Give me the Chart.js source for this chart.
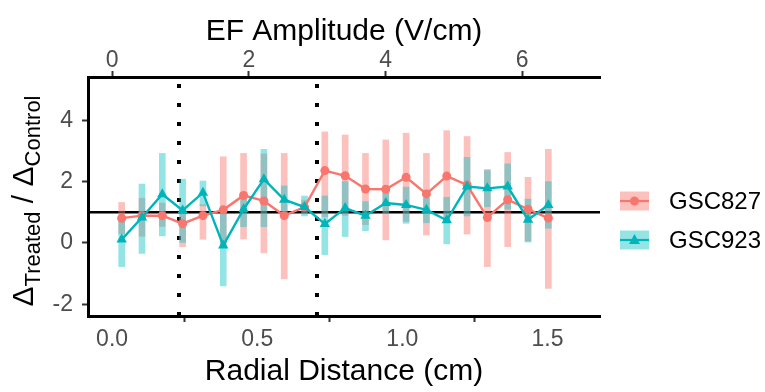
<!DOCTYPE html>
<html>
<head>
<meta charset="utf-8">
<script src="https://cdn.jsdelivr.net/npm/chart.js@4/dist/chart.umd.min.js"></script>
<style>
  html, body { margin: 0; padding: 0; background: #fff; }
</style>
</head>
<body>
<canvas id="chart" width="765" height="392"></canvas>
<script>
// radial distance of each bin centre (cm)
const radialCm = [0.033, 0.103, 0.173, 0.243, 0.313, 0.383, 0.453, 0.523, 0.593, 0.663, 0.733,
                  0.803, 0.873, 0.943, 1.013, 1.083, 1.153, 1.223, 1.293, 1.363, 1.433, 1.503];

const gsc827Mean = [0.81, 0.89, 0.89, 0.63, 0.89, 1.08, 1.55, 1.37, 0.89, 1.17, 2.36,
                    2.19, 1.76, 1.75, 2.14, 1.60, 2.18, 1.89, 0.83, 1.41, 1.10, 0.81];
const gsc827Low  = [0.30, 0.22, 0.54, -0.12, 0.12, -0.12, 0.13, -0.32, -1.17, 0.95, 0.86,
                    0.90, 0.60, 0.10, 0.70, 0.26, 0.70, 0.29, -0.77, -0.12, 0.06, -1.48];
const gsc827High = [1.32, 1.46, 1.30, 1.13, 1.25, 2.81, 2.92, 2.90, 2.92, 1.40, 3.62,
                    3.52, 2.92, 3.36, 3.58, 2.92, 3.66, 3.47, 2.40, 2.95, 2.14, 3.05];

const gsc923Mean = [0.11, 0.83, 1.59, 1.06, 1.64, -0.08, 1.10, 2.08, 1.41, 1.17, 0.62,
                    1.14, 0.89, 1.30, 1.24, 1.08, 0.74, 1.84, 1.78, 1.84, 0.76, 1.24];
const gsc923Low  = [-0.77, -0.34, 0.23, 0.00, 1.21, -1.40, 0.53, 0.53, 0.92, 0.88, -0.38,
                    0.21, 0.40, 0.97, 0.64, 0.66, -0.03, 0.88, 1.18, 1.10, 0.03, 0.48];
const gsc923High = [0.80, 1.92, 2.92, 2.08, 2.02, 1.19, 1.49, 3.05, 1.86, 1.53, 1.53,
                    2.00, 1.35, 1.62, 1.82, 1.46, 1.49, 2.79, 2.36, 2.58, 1.43, 2.00];

const seriesNames = ["GSC827", "GSC923"];
const dividerCm = [0.231, 0.705];   // dotted region boundaries
const refLevel = 1;                  // treated == control
const cmToEF = 4.246;                // top axis: V/cm per cm

const red = "#F8766D", redFill = "rgba(248,118,109,0.45)";
const teal = "#00B5BA", tealFill = "rgba(0,191,196,0.42)";
const FONT = "'Liberation Sans', Arial, sans-serif";

const xMin = -0.083, xMax = 1.681;

function pts(vals) {
    return vals.map((v, i) => ({ x: radialCm[i], y: v }));
}
function ranges(lo, hi) {
    return lo.map((v, i) => ({ x: radialCm[i], y: [v, hi[i]] }));
}

const axisGrid = { drawOnChartArea: false, drawTicks: true, tickLength: 6, tickWidth: 2, tickColor: "#333" };
const axisBorder = { display: true, color: "#000", width: 3 };
const tickFont = { family: FONT, size: 23 };

// reference lines + y title + legend
const extras = {
    id: "extras",
    beforeDatasetsDraw(chart) {
        const { ctx, chartArea: a, scales } = chart;
        ctx.save();
        ctx.strokeStyle = "#000";
        ctx.lineWidth = 4;
        ctx.setLineDash([4, 15]);
        ctx.lineDashOffset = 12;
        dividerCm.forEach(d => {
            const px = Math.round(scales.x.getPixelForValue(d));
            ctx.beginPath();
            ctx.moveTo(px, a.top);
            ctx.lineTo(px, a.bottom);
            ctx.stroke();
        });
        ctx.setLineDash([]);
        ctx.lineWidth = 2.5;
        const py = scales.y.getPixelForValue(refLevel);
        ctx.beginPath();
        ctx.moveTo(a.left, py);
        ctx.lineTo(a.right, py);
        ctx.stroke();
        ctx.restore();
    },
    afterDraw(chart) {
        const { ctx } = chart;
        ctx.save();
        // y axis title: Δ_Treated / Δ_Control
        const parts = [["Δ", 30, 0], ["Treated", 22, 7], [" / Δ", 30, 0], ["Control", 22, 7]];
        let total = 0;
        parts.forEach(p => { ctx.font = p[1] + "px " + FONT; total += ctx.measureText(p[0]).width; });
        ctx.translate(33, 201);
        ctx.rotate(-Math.PI / 2);
        ctx.fillStyle = "#000";
        ctx.textBaseline = "alphabetic";
        let cx = -total / 2;
        parts.forEach(p => {
            ctx.font = p[1] + "px " + FONT;
            ctx.fillText(p[0], cx, p[2]);
            cx += ctx.measureText(p[0]).width;
        });
        ctx.restore();

        // legend
        ctx.save();
        const keys = [[red, redFill, "circle"], [teal, tealFill, "triangle"]];
        keys.forEach((k, i) => {
            const cy = 201 + i * 39;
            ctx.fillStyle = k[1];
            ctx.fillRect(620, cy - 9.5, 29, 19);
            ctx.strokeStyle = k[0];
            ctx.lineWidth = 2.2;
            ctx.beginPath();
            ctx.moveTo(620, cy);
            ctx.lineTo(649, cy);
            ctx.stroke();
            ctx.fillStyle = k[0];
            ctx.beginPath();
            if (k[2] === "circle") {
                ctx.arc(634.5, cy, 4.5, 0, Math.PI * 2);
            } else {
                ctx.moveTo(634.5, cy - 6);
                ctx.lineTo(640, cy + 4);
                ctx.lineTo(629, cy + 4);
                ctx.closePath();
            }
            ctx.fill();
            ctx.fillStyle = "#000";
            ctx.font = "24px " + FONT;
            ctx.textBaseline = "middle";
            ctx.fillText(seriesNames[i], 669, cy + 1);
        });
        ctx.restore();
    }
};

new Chart(document.getElementById("chart"), {
    type: "line",
    data: {
        datasets: [
            { type: "bar", data: ranges(gsc827Low, gsc827High), backgroundColor: redFill,
              barThickness: 6, grouped: false, borderWidth: 0, order: 3 },
            { type: "bar", data: ranges(gsc923Low, gsc923High), backgroundColor: tealFill,
              barThickness: 6, grouped: false, borderWidth: 0, order: 2 },
            { label: seriesNames[0], data: pts(gsc827Mean), borderColor: red, backgroundColor: red,
              borderWidth: 2.4, pointStyle: "circle", pointRadius: 4.5, pointBorderWidth: 0,
              tension: 0, order: 1 },
            { label: seriesNames[1], data: pts(gsc923Mean), borderColor: teal, backgroundColor: teal,
              borderWidth: 2.4, pointStyle: "triangle", pointRadius: 6, pointBorderWidth: 0,
              tension: 0, order: 0 }
        ]
    },
    options: {
        responsive: false,
        animation: false,
        devicePixelRatio: 1,
        layout: { padding: { left: 0, right: 165, top: 0, bottom: 0 } },
        plugins: { legend: { display: false }, tooltip: { enabled: false } },
        scales: {
            x: {
                type: "linear", position: "bottom", min: xMin, max: xMax, offset: false,
                afterFit: s => { s.height = 76; },
                grid: axisGrid, border: axisBorder,
                ticks: { stepSize: 0.5, includeBounds: false, padding: 4, color: "#4D4D4D",
                         font: tickFont, callback: v => v.toFixed(1) },
                title: { display: true, text: "Radial Distance (cm)", color: "#000",
                         font: { family: FONT, size: 30 }, padding: { top: 0, bottom: 2 } }
            },
            x2: {
                type: "linear", position: "top", min: xMin * cmToEF, max: xMax * cmToEF, offset: false,
                afterFit: s => { s.height = 77; },
                grid: axisGrid, border: axisBorder,
                ticks: { stepSize: 2, includeBounds: false, padding: -3, color: "#4D4D4D",
                         font: tickFont, callback: v => String(v) },
                title: { display: true, text: "EF Amplitude (V/cm)", color: "#000",
                         font: { family: FONT, size: 30 }, padding: { top: 14, bottom: 0 } }
            },
            y: {
                type: "linear", position: "left", min: -2.38, max: 5.41,
                afterFit: s => { s.width = 88; },
                grid: axisGrid, border: axisBorder,
                ticks: { stepSize: 2, includeBounds: false, padding: 9, color: "#4D4D4D",
                         font: tickFont }
            }
        }
    },
    plugins: [extras]
});
</script>
</body>
</html>
